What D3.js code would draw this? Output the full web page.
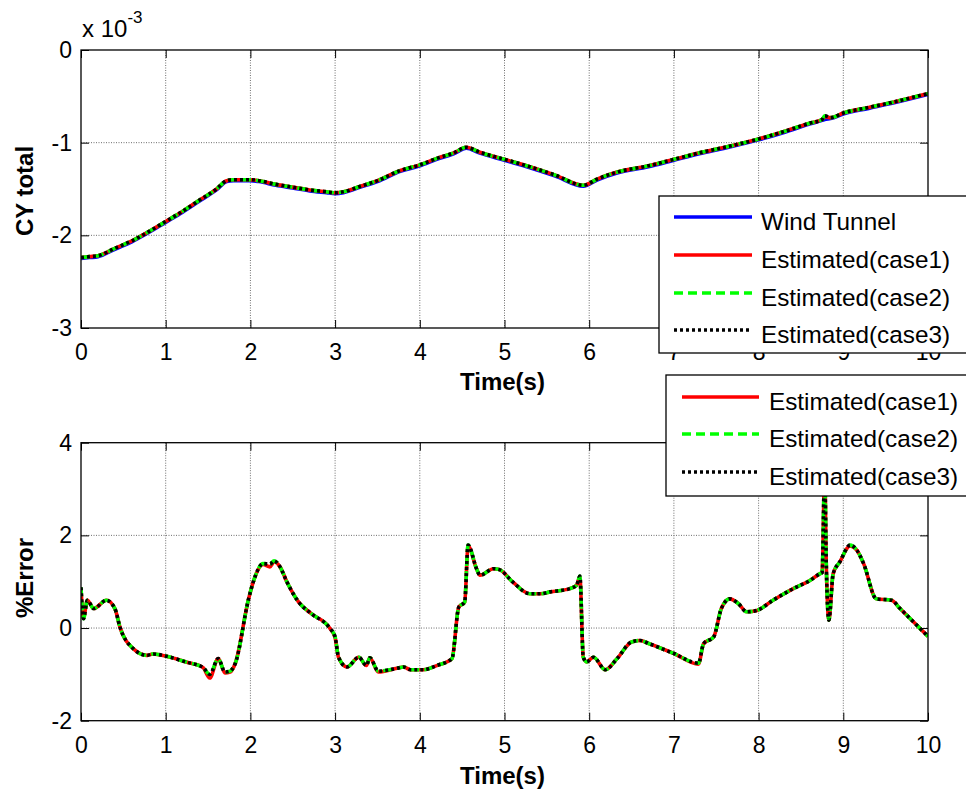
<!DOCTYPE html>
<html>
<head>
<meta charset="utf-8" />
<title>CY total and %Error</title>
<style>
body { margin: 0; background: #fff; }
svg text { font-family: "Liberation Sans", Arial, sans-serif; fill: #000; }
.tick text { font-size: 23px; }
.tick line { stroke: #000; }
.grid line { stroke: #6e6e6e; stroke-width: 1; stroke-dasharray: 1,1.5; }
.label { font-size: 24px; font-weight: bold; text-anchor: middle; }
.legend text { font-size: 24.3px; }
</style>
<script src="https://d3js.org/d3.v7.min.js"></script>
</head>
<body>
<svg class="chart" width="966" height="794"></svg>
<script>
// ---- data ----
// top panel, CY total in units of 1e-3
var cyTime = [0, 0.1, 0.2, 0.4, 0.6, 0.8, 1.0, 1.2, 1.4, 1.6,
  1.72, 1.8, 2.0, 2.1, 2.3, 2.5, 2.7, 2.9, 3.0, 3.1,
  3.3, 3.5, 3.77, 4.0, 4.2, 4.4, 4.55, 4.7, 5.0, 5.3,
  5.6, 5.93, 6.1, 6.32, 6.7, 7.0, 7.3, 7.6, 8.0, 8.3,
  8.6, 8.75, 8.78, 8.85, 9.0, 9.3, 9.6, 10];
var cyWind = [-2.25, -2.24, -2.23, -2.15, -2.07, -1.97, -1.86, -1.75, -1.63, -1.51,
  -1.42, -1.41, -1.41, -1.42, -1.46, -1.49, -1.52, -1.54, -1.55, -1.54,
  -1.48, -1.42, -1.31, -1.25, -1.18, -1.12, -1.06, -1.11, -1.19, -1.27,
  -1.36, -1.47, -1.40, -1.33, -1.26, -1.19, -1.12, -1.06, -0.97, -0.89,
  -0.80, -0.76, -0.75, -0.74, -0.69, -0.63, -0.57, -0.48];
var cyCase1 = [-2.24, -2.23, -2.22, -2.14, -2.06, -1.96, -1.85, -1.74, -1.62, -1.50,
  -1.41, -1.40, -1.40, -1.41, -1.45, -1.48, -1.51, -1.53, -1.54, -1.53,
  -1.47, -1.41, -1.30, -1.24, -1.17, -1.11, -1.05, -1.10, -1.18, -1.26,
  -1.35, -1.46, -1.39, -1.32, -1.25, -1.18, -1.11, -1.05, -0.96, -0.88,
  -0.79, -0.75, -0.72, -0.73, -0.68, -0.62, -0.56, -0.47];
var cyCase2 = [-2.24, -2.23, -2.22, -2.14, -2.06, -1.96, -1.85, -1.74, -1.62, -1.50,
  -1.41, -1.40, -1.40, -1.41, -1.45, -1.48, -1.51, -1.53, -1.54, -1.53,
  -1.47, -1.41, -1.30, -1.24, -1.17, -1.11, -1.05, -1.10, -1.18, -1.26,
  -1.35, -1.46, -1.39, -1.32, -1.25, -1.18, -1.11, -1.05, -0.96, -0.88,
  -0.79, -0.75, -0.71, -0.73, -0.68, -0.62, -0.56, -0.47];
var cyCase3 = [-2.24, -2.23, -2.22, -2.14, -2.06, -1.96, -1.85, -1.74, -1.62, -1.50,
  -1.41, -1.40, -1.40, -1.41, -1.45, -1.48, -1.51, -1.53, -1.54, -1.53,
  -1.47, -1.41, -1.30, -1.24, -1.17, -1.11, -1.05, -1.10, -1.18, -1.26,
  -1.35, -1.46, -1.39, -1.32, -1.25, -1.18, -1.11, -1.05, -0.96, -0.88,
  -0.79, -0.75, -0.71, -0.73, -0.68, -0.62, -0.56, -0.47];

// bottom panel, %Error
var errTime = [0, 0.03, 0.075, 0.15, 0.3, 0.4, 0.46, 0.62, 0.78, 0.85,
  1.01, 1.25, 1.44, 1.52, 1.62, 1.7, 1.76, 1.82, 1.98, 2.04,
  2.15, 2.23, 2.28, 2.35, 2.43, 2.57, 2.72, 2.94, 3.0, 3.04,
  3.14, 3.28, 3.37, 3.41, 3.51, 3.73, 3.81, 3.89, 4.04, 4.2,
  4.38, 4.46, 4.53, 4.57, 4.67, 4.71, 4.87, 4.94, 5.1, 5.3,
  5.42, 5.54, 5.77, 5.85, 5.89, 5.93, 5.97, 6.05, 6.19, 6.33,
  6.5, 6.6, 6.71, 7.0, 7.29, 7.35, 7.47, 7.56, 7.66, 7.76,
  7.86, 7.98, 8.17, 8.41, 8.61, 8.72, 8.75, 8.78, 8.8, 8.83,
  8.88, 8.96, 9.08, 9.16, 9.24, 9.39, 9.57, 9.67, 9.83, 10];
var errCase1 = [0.85, 0.22, 0.6, 0.42, 0.6, 0.42, 0.02, -0.45, -0.59, -0.56,
  -0.61, -0.74, -0.85, -1.08, -0.66, -0.97, -0.95, -0.77, 0.64, 1.03,
  1.37, 1.32, 1.43, 1.32, 1.0, 0.56, 0.31, -0.01, -0.21, -0.63,
  -0.84, -0.63, -0.81, -0.64, -0.95, -0.87, -0.84, -0.9, -0.9, -0.81,
  -0.66, 0.45, 0.56, 1.77, 1.28, 1.14, 1.28, 1.26, 0.99, 0.74,
  0.74, 0.78, 0.85, 0.92, 1.1, -0.63, -0.73, -0.63, -0.9, -0.66,
  -0.3, -0.27, -0.34, -0.55, -0.78, -0.34, -0.19, 0.42, 0.63, 0.53,
  0.35, 0.38, 0.6, 0.85, 1.03, 1.17, 1.2, 3.4, 1.3, 0.17,
  1.17, 1.43, 1.77, 1.68, 1.39, 0.63, 0.6, 0.42, 0.13, -0.18];
var errCase2 = [0.88, 0.2, 0.6, 0.42, 0.6, 0.42, 0.02, -0.45, -0.59, -0.56,
  -0.61, -0.74, -0.85, -1.0, -0.66, -0.95, -0.93, -0.77, 0.64, 1.03,
  1.39, 1.38, 1.45, 1.32, 1.0, 0.56, 0.31, -0.01, -0.19, -0.63,
  -0.84, -0.63, -0.81, -0.64, -0.93, -0.87, -0.84, -0.9, -0.9, -0.81,
  -0.66, 0.45, 0.56, 1.79, 1.28, 1.14, 1.28, 1.26, 0.99, 0.74,
  0.74, 0.78, 0.85, 0.92, 1.12, -0.63, -0.73, -0.63, -0.9, -0.66,
  -0.3, -0.27, -0.34, -0.55, -0.76, -0.34, -0.19, 0.42, 0.63, 0.53,
  0.35, 0.38, 0.6, 0.85, 1.03, 1.17, 1.2, 3.4, 1.3, 0.17,
  1.17, 1.43, 1.79, 1.68, 1.39, 0.63, 0.6, 0.42, 0.13, -0.18];
var errCase3 = [0.88, 0.2, 0.6, 0.42, 0.6, 0.42, 0.02, -0.45, -0.59, -0.56,
  -0.61, -0.74, -0.85, -1.0, -0.66, -0.95, -0.93, -0.77, 0.64, 1.03,
  1.39, 1.38, 1.45, 1.32, 1.0, 0.56, 0.31, -0.01, -0.19, -0.63,
  -0.84, -0.63, -0.81, -0.64, -0.93, -0.87, -0.84, -0.9, -0.9, -0.81,
  -0.66, 0.45, 0.56, 1.79, 1.28, 1.14, 1.28, 1.26, 0.99, 0.74,
  0.74, 0.78, 0.85, 0.92, 1.12, -0.63, -0.73, -0.63, -0.9, -0.66,
  -0.3, -0.27, -0.34, -0.55, -0.76, -0.34, -0.19, 0.42, 0.63, 0.53,
  0.35, 0.38, 0.6, 0.85, 1.03, 1.17, 1.2, 3.4, 1.3, 0.17,
  1.17, 1.43, 1.79, 1.68, 1.39, 0.63, 0.6, 0.42, 0.13, -0.18];

var xTicks = [0, 1, 2, 3, 4, 5, 6, 7, 8, 9, 10];
var cyTicks = [-3, -2, -1, 0];
var errTicks = [-2, 0, 2, 4];

var styles = {
  wind:  { color: "#0000ff", dash: null,  label: "Wind Tunnel" },
  case1: { color: "#ff0000", dash: null,  label: "Estimated(case1)" },
  case2: { color: "#00ff00", dash: "9,5", label: "Estimated(case2)" },
  case3: { color: "#000000", dash: "3,3", label: "Estimated(case3)" }
};

var svg = d3.select(".chart");
var left = 81, right = 928;

var x = d3.scaleLinear().domain([0, 10]).range([left, right]);

// plain hyphen for negatives, like the matlab figure
function fmt(d) { return String(d); }

function panel(opts) {
  var y = d3.scaleLinear().domain(opts.domain).range([opts.bottom, opts.top]);
  var g = svg.append("g");

  g.append("clipPath").attr("id", opts.id)
    .append("rect")
    .attr("x", left).attr("y", opts.top)
    .attr("width", right - left).attr("height", opts.bottom - opts.top);

  // grid
  var grid = g.append("g").attr("class", "grid");
  grid.selectAll(".gx").data(xTicks.slice(1, -1)).enter().append("line")
    .attr("x1", x).attr("x2", x)
    .attr("y1", opts.top).attr("y2", opts.bottom);
  grid.selectAll(".gy").data(opts.ticks.slice(1, -1)).enter().append("line")
    .attr("x1", left).attr("x2", right)
    .attr("y1", y).attr("y2", y);

  // series
  var line = d3.line()
    .curve(d3.curveMonotoneX)
    .x(function(d) { return x(d[0]); })
    .y(function(d) { return y(d[1]); });
  var lines = g.append("g").attr("clip-path", "url(#" + opts.id + ")");
  opts.series.forEach(function(s) {
    var st = styles[s.key];
    lines.append("path")
      .datum(d3.zip(opts.time, s.values))
      .attr("d", line)
      .attr("fill", "none")
      .attr("stroke", st.color)
      .attr("stroke-width", 3.6)
      .attr("stroke-dasharray", st.dash);
  });

  // axes, ticks pointing inwards like matlab
  g.append("g").attr("transform", "translate(0," + opts.bottom + ")")
    .call(d3.axisBottom(x).tickValues(xTicks).tickSize(-8).tickPadding(16).tickFormat(fmt))
    .call(function(a) { a.select(".domain").remove(); });
  g.append("g").attr("transform", "translate(0," + opts.top + ")")
    .call(d3.axisTop(x).tickValues(xTicks).tickSize(-8).tickFormat(""))
    .call(function(a) { a.select(".domain").remove(); });
  g.append("g").attr("transform", "translate(" + left + ",0)")
    .call(d3.axisLeft(y).tickValues(opts.ticks).tickSize(-8).tickPadding(9).tickFormat(fmt))
    .call(function(a) { a.select(".domain").remove(); });
  g.append("g").attr("transform", "translate(" + right + ",0)")
    .call(d3.axisRight(y).tickValues(opts.ticks).tickSize(-8).tickFormat(""))
    .call(function(a) { a.select(".domain").remove(); });

  g.selectAll(".tick text")
    .style("font-family", "'Liberation Sans', Arial, sans-serif")
    .style("font-size", "23px");

  g.append("rect")
    .attr("x", left).attr("y", opts.top)
    .attr("width", right - left).attr("height", opts.bottom - opts.top)
    .attr("fill", "none").attr("stroke", "#000").attr("stroke-width", 1.3);

  // labels
  svg.append("text").attr("class", "label")
    .attr("x", (left + right) / 2 - 2).attr("y", opts.xLabelY)
    .text("Time(s)");
  svg.append("text").attr("class", "label")
    .attr("transform", "translate(33," + opts.yLabelY + ") rotate(-90)")
    .text(opts.yLabel);

  return y;
}

panel({
  id: "clipTop", top: 50, bottom: 328, domain: [-3, 0], ticks: cyTicks,
  time: cyTime, xLabelY: 390, yLabelY: 191, yLabel: "CY total",
  series: [
    { key: "wind", values: cyWind },
    { key: "case1", values: cyCase1 },
    { key: "case2", values: cyCase2 },
    { key: "case3", values: cyCase3 }
  ]
});

panel({
  id: "clipBot", top: 442.7, bottom: 720.7, domain: [-2, 4], ticks: errTicks,
  time: errTime, xLabelY: 784, yLabelY: 578, yLabel: "%Error",
  series: [
    { key: "case1", values: errCase1 },
    { key: "case2", values: errCase2 },
    { key: "case3", values: errCase3 }
  ]
});

// exponent of the top axis
var expo = svg.append("text").attr("x", 82).attr("y", 37).style("font-size", "24px");
expo.append("tspan").text("x 10");
expo.append("tspan").attr("dy", -14).style("font-size", "17px").text("-3");

// legends
function legend(bx, by, bh, rows, sx0, sx1, tx, keys) {
  var lg = svg.append("g").attr("class", "legend");
  lg.append("rect")
    .attr("x", bx).attr("y", by).attr("width", 400).attr("height", bh)
    .attr("fill", "#fff").attr("stroke", "#000").attr("stroke-width", 1.3);
  keys.forEach(function(k, i) {
    var st = styles[k];
    lg.append("line")
      .attr("x1", sx0).attr("x2", sx1).attr("y1", rows[i]).attr("y2", rows[i])
      .attr("stroke", st.color).attr("stroke-width", 3.3)
      .attr("stroke-dasharray", st.dash);
    lg.append("text").attr("x", tx).attr("y", rows[i] + 12.5).text(st.label);
  });
}

legend(659, 196, 157, [217, 255, 293, 330], 674, 752, 761, ["wind", "case1", "case2", "case3"]);
legend(666, 375, 121, [397, 434, 472], 682, 759, 769, ["case1", "case2", "case3"]);
</script>
</body>
</html>
